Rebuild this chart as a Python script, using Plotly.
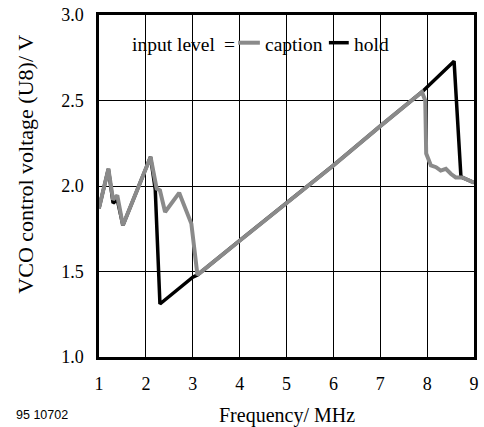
import plotly.graph_objects as go

freq_caption = [1.0, 1.2, 1.3, 1.39, 1.51, 2.1, 2.23, 2.30, 2.41, 2.71, 2.97, 3.1,
                4.0, 5.0, 6.0, 7.0, 7.89, 7.96, 7.98, 8.08, 8.19, 8.29, 8.40, 8.51,
                8.61, 8.75, 9.0]
v_caption = [1.87, 2.10, 1.92, 1.945, 1.77, 2.17, 1.985, 1.975, 1.848, 1.96, 1.78, 1.48,
             1.68, 1.90, 2.12, 2.35, 2.55, 2.50, 2.19, 2.12, 2.11, 2.09, 2.10, 2.07,
             2.05, 2.05, 2.02]

freq_hold = [1.0, 1.2, 1.3, 1.39, 1.51, 2.1, 2.2, 2.30, 3.0, 3.1,
             4.0, 5.0, 6.0, 7.0, 7.89, 8.575, 8.72, 8.75, 9.0]
v_hold = [1.87, 2.10, 1.90, 1.92, 1.77, 2.17, 1.98, 1.31, 1.467, 1.48,
          1.68, 1.90, 2.12, 2.35, 2.55, 2.73, 2.06, 2.05, 2.02]

x_ticks = [1, 2, 3, 4, 5, 6, 7, 8, 9]
y_ticks = [1.0, 1.5, 2.0, 2.5, 3.0]
y_tick_labels = ["1.0", "1.5", "2.0", "2.5", "3.0"]

series_names = ["caption", "hold"]
series_colors = ["#8a8a8a", "#000000"]

serif = "Liberation Serif, Times New Roman, serif"
sans = "Liberation Sans, Arial, sans-serif"

fig = go.Figure()
fig.add_trace(go.Scatter(x=freq_hold, y=v_hold, mode="lines", name=series_names[1],
                         line=dict(color=series_colors[1], width=3.5)))
fig.add_trace(go.Scatter(x=freq_caption, y=v_caption, mode="lines", name=series_names[0],
                         line=dict(color=series_colors[0], width=4)))

leg_y = 0.915
leg_font = dict(family=serif, size=19.5, color="black")

annotations = [
    dict(text="input level", xref="paper", yref="paper", x=0.0834, y=leg_y,
         xanchor="left", yanchor="middle", showarrow=False, font=leg_font),
    dict(text="=", xref="paper", yref="paper", x=0.347, y=leg_y,
         xanchor="center", yanchor="middle", showarrow=False, font=leg_font),
    dict(text=series_names[0], xref="paper", yref="paper", x=0.437, y=leg_y,
         xanchor="left", yanchor="middle", showarrow=False, font=leg_font),
    dict(text=series_names[1], xref="paper", yref="paper", x=0.674, y=leg_y,
         xanchor="left", yanchor="middle", showarrow=False, font=leg_font),
    dict(text="Frequency/ MHz", xref="paper", yref="paper", x=0.5, y=-0.17,
         xanchor="center", yanchor="middle", showarrow=False,
         font=dict(family=serif, size=20, color="black")),
    dict(text="VCO control voltage (U8)/ V", xref="paper", yref="paper",
         x=-0.195, y=0.565, textangle=-90, xanchor="center", yanchor="middle",
         showarrow=False, font=dict(family=serif, size=22, color="black")),
    dict(text="95 10702", xref="paper", yref="paper", x=-0.228, y=-0.17,
         xanchor="left", yanchor="middle", showarrow=False,
         font=dict(family=sans, size=12.5, color="black")),
]

shapes = [
    dict(type="line", xref="paper", yref="paper", x0=0.371, x1=0.429,
         y0=leg_y + 0.004, y1=leg_y + 0.004,
         line=dict(color=series_colors[0], width=4)),
    dict(type="line", xref="paper", yref="paper", x0=0.613, x1=0.666,
         y0=leg_y + 0.004, y1=leg_y + 0.004,
         line=dict(color=series_colors[1], width=3.5)),
]

fig.update_layout(
    width=484, height=427,
    margin=dict(l=99, r=5, t=15, b=70),
    paper_bgcolor="white", plot_bgcolor="white",
    font=dict(family=serif, size=18, color="black"),
    showlegend=False,
    xaxis=dict(range=[1, 9], tickvals=x_ticks, showgrid=True, gridcolor="black",
               gridwidth=1, showline=True, linecolor="black", linewidth=2.5, mirror=True,
               ticks="", zeroline=False, ticklabelstandoff=9,
               ticklabeloverflow="allow",
               tickfont=dict(family=serif, size=18, color="black")),
    yaxis=dict(range=[1.0, 3.0], tickvals=y_ticks, ticktext=y_tick_labels,
               showgrid=True, gridcolor="black", gridwidth=1, showline=True,
               linecolor="black", linewidth=2.5, mirror=True, ticks="", zeroline=False,
               ticklabelstandoff=9, ticklabeloverflow="allow",
               tickfont=dict(family=serif, size=18, color="black")),
    annotations=annotations,
    shapes=shapes,
)

fig.write_html("out.html", config={"displayModeBar": False},
               post_script="document.body.style.margin='0';document.body.style.overflow='hidden';")
